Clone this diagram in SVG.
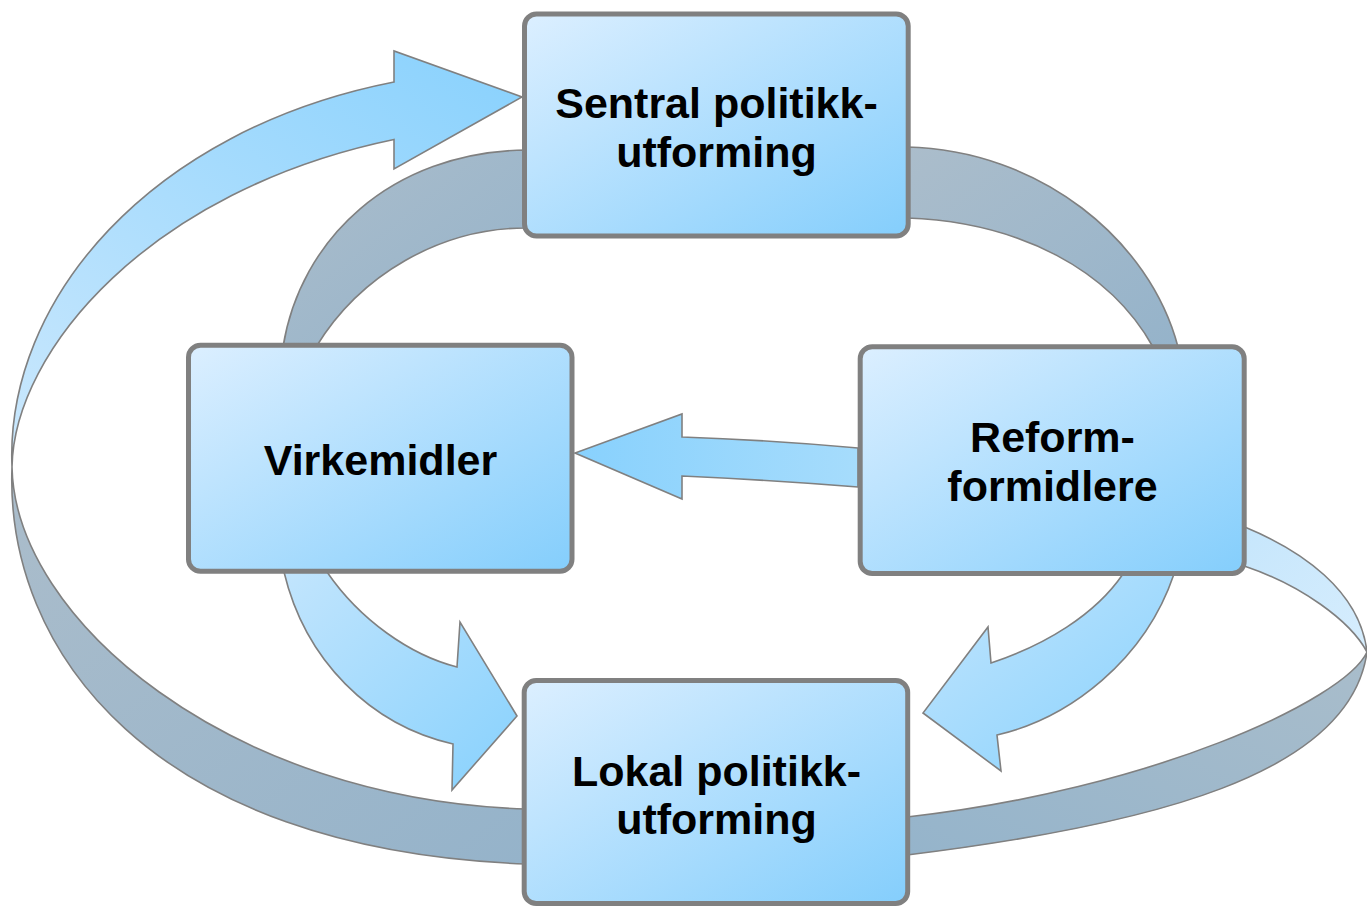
<svg xmlns="http://www.w3.org/2000/svg" width="1367" height="908" viewBox="0 0 1367 908">
  <defs>
    <linearGradient id="boxGrad" x1="0" y1="0" x2="1" y2="1">
      <stop offset="0" stop-color="#dcefff"/>
      <stop offset="1" stop-color="#84cefc"/>
    </linearGradient>
    <linearGradient id="blueLR" x1="0" y1="0" x2="1" y2="1">
      <stop offset="0" stop-color="#c2e5fd"/>
      <stop offset="1" stop-color="#87d1fd"/>
    </linearGradient>
    <linearGradient id="blueRL" x1="1" y1="0" x2="0" y2="0">
      <stop offset="0" stop-color="#a6dcfc"/>
      <stop offset="1" stop-color="#88d1fd"/>
    </linearGradient>
    <linearGradient id="blueLoopL" x1="0" y1="1" x2="1" y2="0">
      <stop offset="0" stop-color="#cbe8fd"/>
      <stop offset="1" stop-color="#88d1fd"/>
    </linearGradient>
    <linearGradient id="blueLoopR" x1="0" y1="0" x2="1" y2="1">
      <stop offset="0" stop-color="#c6e6fc"/>
      <stop offset="1" stop-color="#d6edfd"/>
    </linearGradient>
    <linearGradient id="grayGrad" x1="0" y1="0" x2="1" y2="1">
      <stop offset="0" stop-color="#abbdcb"/>
      <stop offset="1" stop-color="#95b3ca"/>
    </linearGradient>
    <linearGradient id="grayGradR" x1="1" y1="0" x2="0" y2="1">
      <stop offset="0" stop-color="#a9bdcb"/>
      <stop offset="1" stop-color="#95b4cb"/>
    </linearGradient>
  </defs>
  <style>
    .node rect { fill: url(#boxGrad); stroke: #808080; stroke-width: 5; }
    .node text { font-family: "Liberation Sans", Arial, sans-serif; font-weight: bold; font-size: 43px; fill: #000; text-anchor: middle; }
    .conn path { stroke: #808080; stroke-width: 1.6; stroke-linejoin: miter; }
  </style>

  <g id="connectors" class="conn">
    <!-- inner gray ring, top-left -->
    <path d="M 283 347 C 300 240, 390 152, 526 150 L 526 228 C 440 228, 360 275, 316 347 Z" fill="url(#grayGrad)"/>
    <!-- inner gray ring, top-right -->
    <path d="M 907 147 C 1040 150, 1150 240, 1178 347 L 1153 347 C 1110 270, 1020 222, 907 218 Z" fill="url(#grayGrad)"/>
    <!-- outer loop left, gray lower part -->
    <path d="M 12 467 C 5 650, 150 850, 526 864 L 526 809 C 230 800, 15 620, 12 467 Z" fill="url(#grayGrad)"/>
    <!-- outer loop left, blue upper part with arrowhead -->
    <path d="M 12 467 C 5 300, 150 130, 394 82 L 394 51 L 522 97 L 394 169 L 394 139.5 C 150 190, 14 350, 12 467 Z" fill="url(#blueLoopL)"/>
    <!-- outer loop right, blue upper part -->
    <path d="M 1240 525 L 1247 528 C 1300 550, 1360 590, 1367 652 C 1350 620, 1300 585, 1247 567 L 1240 564 Z" fill="url(#blueLoopR)"/>
    <!-- outer loop right, gray lower part -->
    <path d="M 1367 652 C 1345 700, 1150 790, 907 817 L 907 855 C 1150 825, 1350 775, 1367 652 Z" fill="url(#grayGradR)"/>
    <!-- Reform -> Virkemidler -->
    <path d="M 858 448 Q 770 440 682 437 L 682 414 L 575 453 L 682 499 L 682 476 Q 770 480 858 487 Z" fill="url(#blueRL)"/>
    <!-- Virkemidler -> Lokal -->
    <path d="M 327 572 C 360 620, 410 655, 457 667 L 460 622 L 517 716 L 452 790 L 453 744 C 370 725, 305 660, 284 572 Z" fill="url(#blueLR)"/>
    <!-- Reform -> Lokal -->
    <path d="M 1123 574 C 1095 615, 1045 645, 991 663 L 988 627 L 923 713 L 1001 771 L 997 735 C 1070 718, 1145 660, 1174 574 Z" fill="url(#blueLR)"/>
  </g>

  <g id="node-sentral" class="node">
    <rect x="524.5" y="14" width="383.7" height="222" rx="12"/>
    <text x="716.5" y="118">Sentral politikk-</text>
    <text x="716.5" y="166.5">utforming</text>
  </g>
  <g id="node-virkemidler" class="node">
    <rect x="188.5" y="345.2" width="383.5" height="226" rx="12"/>
    <text x="380.5" y="475">Virkemidler</text>
  </g>
  <g id="node-reform" class="node">
    <rect x="860.2" y="346.8" width="384" height="226.7" rx="12"/>
    <text x="1052.5" y="452">Reform-</text>
    <text x="1052.5" y="500.5">formidlere</text>
  </g>
  <g id="node-lokal" class="node">
    <rect x="524.2" y="680.5" width="383.5" height="223" rx="12"/>
    <text x="716.5" y="786">Lokal politikk-</text>
    <text x="716.5" y="834">utforming</text>
  </g>
</svg>
